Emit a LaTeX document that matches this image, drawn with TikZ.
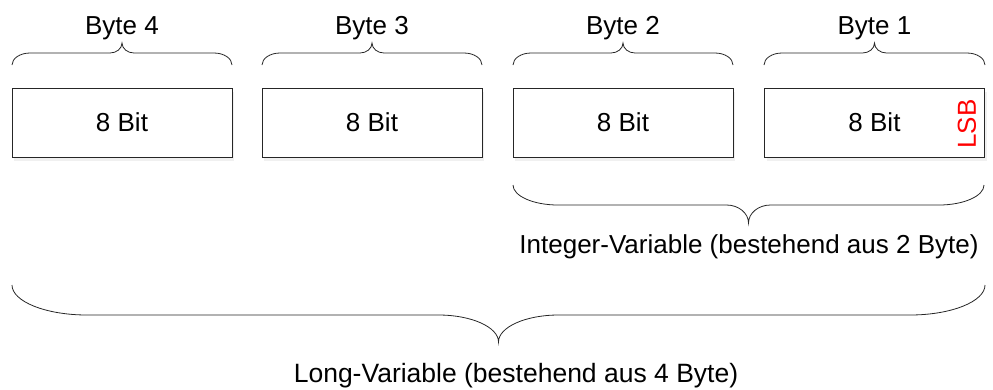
\documentclass[tikz,border=0pt]{standalone}
\usepackage{fontspec}
\setmainfont{Liberation Sans}
\usetikzlibrary{shadows}
\newcommand\bytebrace[7]{% x1 x2 yend yflat ytip r s
  \pgfmathsetmacro\xm{(#1+#2)/2}
  \draw[brace line] (#1,#3) .. controls (#1,{#3+0.55*(#4-#3)}) and ({#1+0.45*#6},#4) .. ({#1+#6},#4)
    -- ({\xm-#7},#4) .. controls ({\xm-0.45*#7},#4) and (\xm,{#5-0.55*(#5-#4)}) .. (\xm,#5)
    .. controls (\xm,{#5-0.55*(#5-#4)}) and ({\xm+0.45*#7},#4) .. ({\xm+#7},#4)
    -- ({#2-#6},#4) .. controls ({#2-0.45*#6},#4) and (#2,{#3+0.55*(#4-#3)}) .. (#2,#3);
}
\begin{document}
\begin{tikzpicture}[x=1pt,y=-1pt,
  every node/.style={font=\fontsize{26}{30}\selectfont},
  bitbox/.style={draw=black!85,line width=0.8pt,fill=white,minimum width=220pt,minimum height=69pt,inner sep=0pt,
    drop shadow={opacity=0.12,shadow xshift=2pt,shadow yshift=-4pt}},
  brace line/.style={draw=black!85,line width=0.8pt},
  lbl/.style={inner sep=0pt}]
\useasboundingbox (0,0) rectangle (993,389);
\node[bitbox] (b4) at (122,122.5) {8 Bit};
\node[bitbox] (b3) at (372,122.5) {8 Bit};
\node[bitbox] (b2) at (623,122.5) {8 Bit};
\node[bitbox] (b1) at (874.5,122.5) {8 Bit};
\node[lbl,text=red,rotate=90] (lsb) at (967,124) {LSB};
\bytebrace{12}{232}{65}{53}{43}{18}{12}
\bytebrace{262}{482}{65}{53}{43}{18}{12}
\bytebrace{513}{733}{65}{53}{43}{18}{12}
\bytebrace{764}{985}{65}{53}{43}{18}{12}
\node[lbl] (l4) at (122,28) {Byte 4};
\node[lbl] (l3) at (372,28) {Byte 3};
\node[lbl] (l2) at (623,28) {Byte 2};
\node[lbl] (l1) at (874.5,28) {Byte 1};
\bytebrace{513}{984}{185}{205}{223}{45}{22}
\node[lbl] (int) at (749,246.5) {Integer-Variable (bestehend aus 2 Byte)};
\bytebrace{12}{985}{285}{315}{342}{75}{60}
\node[lbl,font=\fontsize{26.5}{30}\selectfont] (long) at (516,375.5) {Long-Variable (bestehend aus 4 Byte)};
\end{tikzpicture}
\end{document}
